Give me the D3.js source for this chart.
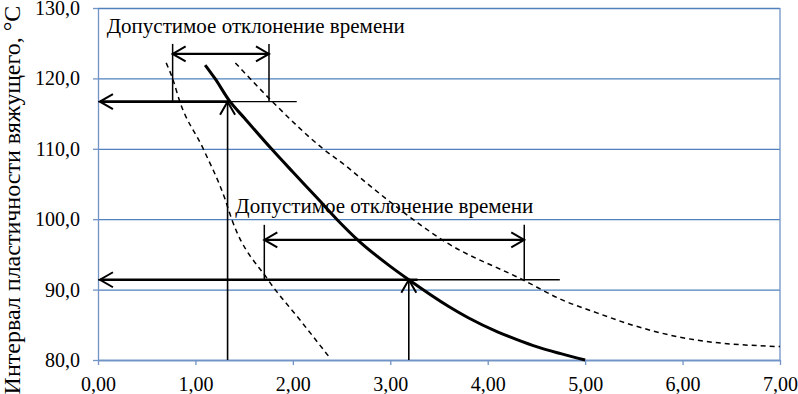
<!DOCTYPE html>
<html>
<head>
<meta charset="utf-8">
<script src="https://cdn.jsdelivr.net/npm/d3@7"></script>
<style>
  html, body { margin: 0; padding: 0; background: #fff; }
</style>
</head>
<body>
<svg id="chart" width="798" height="394"></svg>
<script>
// main curve (solid) and tolerance curves (dashed)
const mainX = [1.10, 1.20, 1.35, 1.50, 1.78, 2.00, 2.25, 2.45, 2.67, 3.00, 3.19, 3.60, 3.80, 4.10, 4.30, 4.50, 4.75, 5.00];
const mainY = [121.9, 120.0, 116.8, 114.4, 110.0, 106.7, 103.0, 100.0, 97.0, 93.3, 91.4, 87.6, 86.0, 84.0, 82.9, 81.9, 80.9, 80.0];
const lowX = [0.70, 0.765, 0.84, 1.08, 1.30, 1.375, 1.745, 2.09, 2.38];
const lowY = [122.2, 120.0, 116.7, 110.0, 103.0, 99.9, 91.4, 85.4, 80.3];
const highX = [1.41, 1.79, 2.31, 2.55, 2.76, 3.23, 3.54, 4.36, 4.77, 5.12, 5.43, 6.11, 7.00];
const highY = [122.2, 116.7, 110.0, 107.5, 105.1, 100.0, 97.0, 91.4, 88.5, 86.7, 85.2, 82.9, 81.9];

const xTicks = [0, 1, 2, 3, 4, 5, 6, 7];
const yTicks = [80, 90, 100, 110, 120, 130];

// two worked examples: target temperature -> time, with allowed time deviation
const targetT = [116.7, 91.4];
const targetTime = [1.33, 3.19];
const thickEnd = [1.35, 3.28];
const thinEnd = [2.04, 4.74];
const tolFrom = [0.766, 1.707];
const tolTo = [1.755, 4.375];
const tolArrowT = [123.47, 97.05];
const tolTopT = [124.9, 99.2];
const noteText = ["Допустимое отклонение времени", "Допустимое отклонение времени"];
const noteX = [0.09, 1.41];
const noteT = [126.4, 100.9];
const yTitle = "Интервал пластичности вяжущего, °С";

const margin = { top: 8, right: 18, bottom: 34, left: 98 },
      width = 798 - margin.left - margin.right,
      height = 394 - margin.top - margin.bottom;

const font = "Liberation Serif";

const svg = d3.select("#chart");
const g = svg.append("g").attr("transform", `translate(${margin.left},${margin.top})`);

const x = d3.scaleLinear().domain([0, 7]).range([0, width]);
const y = d3.scaleLinear().domain([80, 130]).range([height, 0]);

const loc = d3.formatLocale({ decimal: ",", thousands: " ", grouping: [3], currency: ["", ""] });
const gridColor = "#4F81BD";
const axisColor = "#7193C6";

// horizontal gridlines
g.append("g")
  .call(d3.axisLeft(y).tickValues(yTicks).tickSize(-width).tickFormat(""))
  .call(s => s.select(".domain").remove())
  .selectAll("line").attr("stroke", gridColor).attr("stroke-width", 1.3);

function styleAxis(s) {
  s.select(".domain").attr("stroke", axisColor).attr("stroke-width", 1.3);
  s.selectAll("line").attr("stroke", axisColor).attr("stroke-width", 1.3);
  s.selectAll("text").attr("fill", "#000").attr("font-family", font).attr("font-size", 20);
}

// y axis
g.append("g")
  .call(d3.axisLeft(y).tickValues(yTicks).tickSize(5).tickSizeOuter(0).tickPadding(13).tickFormat(loc.format(".1f")))
  .call(styleAxis);

// x axis
g.append("g")
  .attr("transform", `translate(0,${height})`)
  .call(d3.axisBottom(x).tickValues(xTicks).tickSize(5).tickSizeOuter(0).tickPadding(12).tickFormat(loc.format(".2f")))
  .call(styleAxis);

// right border
g.append("line")
  .attr("x1", x(7)).attr("x2", x(7)).attr("y1", y(130)).attr("y2", y(80))
  .attr("stroke", axisColor).attr("stroke-width", 1.3);

// y title
svg.append("text")
  .attr("transform", `translate(12,${margin.top + height / 2 + 16}) rotate(-90)`)
  .attr("text-anchor", "middle")
  .attr("dominant-baseline", "central")
  .attr("font-family", font)
  .attr("font-size", 24)
  .text(yTitle);

// arrowhead marker
const defs = svg.append("defs");
defs.append("marker")
  .attr("id", "head")
  .attr("markerUnits", "userSpaceOnUse")
  .attr("viewBox", "-15 -10 17 20")
  .attr("markerWidth", 17).attr("markerHeight", 20)
  .attr("refX", 0).attr("refY", 0)
  .attr("orient", "auto-start-reverse")
  .append("path")
  .attr("d", "M-13,-7.5L0,0L-13,7.5")
  .attr("fill", "none").attr("stroke", "#000").attr("stroke-width", 2);

// curves
const line = d3.line().x(d => x(d[0])).y(d => y(d[1])).curve(d3.curveMonotoneX);
const curves = [
  { pts: d3.zip(lowX, lowY), w: 1.5, dash: "5,4" },
  { pts: d3.zip(highX, highY), w: 1.5, dash: "5,4" },
  { pts: d3.zip(mainX, mainY), w: 3, dash: null }
];
g.selectAll(".curve")
  .data(curves)
  .enter()
  .append("path")
  .attr("class", "curve")
  .attr("d", d => line(d.pts))
  .attr("fill", "none")
  .attr("stroke", "#000")
  .attr("stroke-width", d => d.w)
  .attr("stroke-dasharray", d => d.dash);

const ann = g.append("g").attr("stroke", "#000").attr("fill", "none");

targetT.forEach((t, i) => {
  // thin reference line
  ann.append("line")
    .attr("x1", x(0)).attr("x2", x(thinEnd[i])).attr("y1", y(t)).attr("y2", y(t))
    .attr("stroke-width", 1.3);
  // thick arrow to the temperature axis
  ann.append("line")
    .attr("x1", x(thickEnd[i])).attr("x2", x(0.02)).attr("y1", y(t)).attr("y2", y(t))
    .attr("stroke-width", 2.6).attr("marker-end", "url(#head)");
  // vertical arrow from time axis
  ann.append("line")
    .attr("x1", x(targetTime[i])).attr("x2", x(targetTime[i])).attr("y1", y(80)).attr("y2", y(t))
    .attr("stroke-width", 1.6).attr("marker-end", "url(#head)");
  // tolerance bracket
  [tolFrom[i], tolTo[i]].forEach(v => {
    ann.append("line")
      .attr("x1", x(v)).attr("x2", x(v)).attr("y1", y(t)).attr("y2", y(tolTopT[i]))
      .attr("stroke-width", 1.5);
  });
  ann.append("line")
    .attr("x1", x(tolFrom[i])).attr("x2", x(tolTo[i])).attr("y1", y(tolArrowT[i])).attr("y2", y(tolArrowT[i]))
    .attr("stroke-width", 2.2)
    .attr("marker-start", "url(#head)").attr("marker-end", "url(#head)");
});

g.selectAll(".note")
  .data(noteText)
  .enter()
  .append("text")
  .attr("class", "note")
  .attr("x", (d, i) => x(noteX[i]))
  .attr("y", (d, i) => y(noteT[i]))
  .attr("font-family", font)
  .attr("font-size", 21)
  .text(d => d);
</script>
</body>
</html>
